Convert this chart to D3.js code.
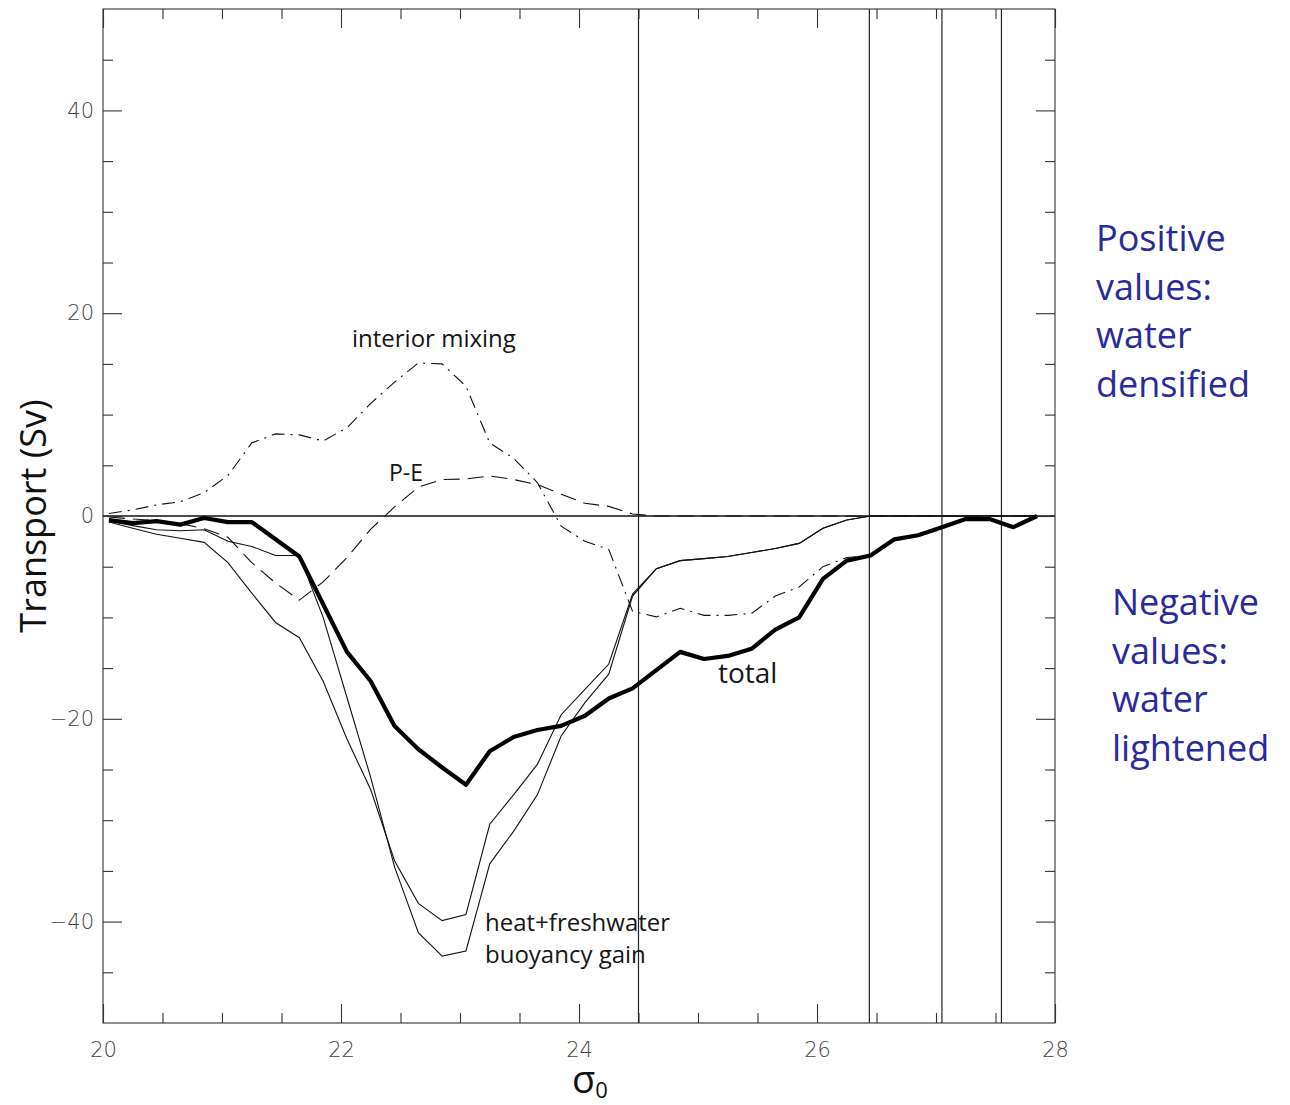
<!DOCTYPE html>
<html>
<head>
<meta charset="utf-8">
<script src="https://cdn.jsdelivr.net/npm/d3@7"></script>
<style>
    body { margin: 0; background: #fff; }
    svg { display: block; }
</style>
</head>
<body>
<svg width="1290" height="1105"></svg>
<script>
// data (sigma_0 bins, transport in Sv)
const sigma = [20.05, 20.25, 20.45, 20.65, 20.85, 21.05, 21.25, 21.45, 21.65, 21.85,
    22.05, 22.25, 22.45, 22.65, 22.85, 23.05, 23.25, 23.45, 23.65, 23.85,
    24.05, 24.25, 24.45, 24.65, 24.85, 25.05, 25.25, 25.45, 25.65, 25.85,
    26.05, 26.25, 26.45, 26.65, 26.85, 27.05, 27.25, 27.45, 27.65, 27.85];

const total = [-0.4, -0.7, -0.5, -0.85, -0.2, -0.6, -0.6, -2.3, -4.0, -8.7,
    -13.4, -16.3, -20.7, -23.0, -24.8, -26.5, -23.2, -21.8, -21.1, -20.7,
    -19.7, -18.0, -17.0, -15.2, -13.4, -14.1, -13.8, -13.1, -11.2, -10.0,
    -6.2, -4.4, -3.9, -2.3, -1.9, -1.1, -0.3, -0.3, -1.1, 0.0];

const mixing = [0.25, 0.6, 1.1, 1.4, 2.3, 4.0, 7.2, 8.1, 8.0, 7.4,
    8.7, 11.1, 13.2, 15.1, 15.0, 12.8, 7.2, 5.7, 3.3, -1.0,
    -2.5, -3.3, -9.4, -9.95, -9.1, -9.8, -9.8, -9.6, -7.9, -7.0,
    -5.0, -4.1, -3.9, -2.3, -1.9, -1.1, -0.3, -0.3, -1.1, 0.0];

const heatFresh = [-0.6, -1.2, -1.8, -2.2, -2.6, -4.6, -7.6, -10.5, -12.0, -16.3,
    -22.0, -27.0, -34.0, -38.2, -39.9, -39.3, -30.4, -27.5, -24.5, -19.6,
    -17.1, -14.6, -7.7, -5.2, -4.4, -4.2, -4.0, -3.6, -3.2, -2.7,
    -1.2, -0.4, 0, 0, 0, 0, 0, 0, 0, 0];

const heat = [-0.5, -0.95, -1.35, -1.45, -1.35, -2.5, -3.0, -3.9, -3.9, -10.0,
    -17.9, -25.8, -34.6, -41.1, -43.4, -42.9, -34.3, -31.1, -27.5, -21.7,
    -18.4, -15.6, -7.9, -5.2, -4.4, -4.2, -4.0, -3.6, -3.2, -2.7,
    -1.2, -0.4, 0, 0, 0, 0, 0, 0, 0, 0];

const pMinusE = [-0.1, -0.3, -0.45, -0.75, -1.25, -2.1, -4.6, -6.6, -8.3, -6.5,
    -4.1, -1.3, 0.9, 2.85, 3.6, 3.65, 3.95, 3.6, 3.1, 2.15,
    1.25, 0.95, 0.2, 0, 0, 0, 0, 0, 0, 0,
    0, 0, 0, 0, 0, 0, 0, 0, 0, 0];

const verticalLines = [24.5, 26.44, 27.05, 27.55];

const xMajor = [20, 22, 24, 26, 28];
const xMinor = [20.5, 21, 21.5, 22.5, 23, 23.5, 24.5, 25, 25.5, 26.5, 27, 27.5];
const yMajor = [-40, -20, 0, 20, 40];
const yMinor = [-45, -35, -30, -25, -15, -10, -5, 5, 10, 15, 25, 30, 35, 45];

const positiveNote = ["Positive", "values:", "water", "densified"];
const negativeNote = ["Negative", "values:", "water", "lightened"];

var svg = d3.select("svg");
// plot box (px)
var boxL = 103, boxR = 1055, boxT = 9, boxB = 1023;

var x = d3.scaleLinear().domain([20, 28]).range([boxL, boxR]);
var y = d3.scaleLinear().domain([-50, 50]).range([boxB, boxT]);

const tickFont = "DejaVu Sans";
const textFont = "'Open Sans', 'Noto Sans', sans-serif";

// zero line and the vertical markers
svg.append("line")
    .attr("x1", x(20)).attr("x2", x(28))
    .attr("y1", y(0)).attr("y2", y(0))
    .attr("stroke", "#111").attr("stroke-width", 1.3);

svg.selectAll(".vline")
    .data(verticalLines)
    .enter()
    .append("line")
    .attr("class", "vline")
    .attr("x1", d => x(d)).attr("x2", d => x(d))
    .attr("y1", y(50)).attr("y2", y(-50))
    .attr("stroke", "#222").attr("stroke-width", 1.2);

// series
var line = d3.line()
    .x(d => x(d[0]))
    .y(d => y(d[1]));

function series(values) {
    return sigma.map((s, i) => [s, values[i]]);
}

svg.append("path")
    .attr("d", line(series(pMinusE)))
    .attr("fill", "none").attr("stroke", "#111").attr("stroke-width", 1.1)
    .attr("stroke-dasharray", "16,8");

svg.append("path")
    .attr("d", line(series(mixing)))
    .attr("fill", "none").attr("stroke", "#111").attr("stroke-width", 1.1)
    .attr("stroke-dasharray", "13,6,2,6");

svg.append("path")
    .attr("d", line(series(heat)))
    .attr("fill", "none").attr("stroke", "#111").attr("stroke-width", 1.1);

svg.append("path")
    .attr("d", line(series(heatFresh)))
    .attr("fill", "none").attr("stroke", "#111").attr("stroke-width", 1.1);

svg.append("path")
    .attr("d", line(series(total)))
    .attr("fill", "none").attr("stroke", "#000").attr("stroke-width", 4.2)
    .attr("stroke-linejoin", "round");

// frame + inward ticks on all four sides
svg.append("rect")
    .attr("x", boxL).attr("y", boxT)
    .attr("width", boxR - boxL).attr("height", boxB - boxT)
    .attr("fill", "none").attr("stroke", "#333").attr("stroke-width", 1.1);

function styleAxis(g) {
    g.select(".domain").remove();
    g.selectAll(".tick line").attr("stroke", "#333").attr("stroke-width", 1.1);
    g.selectAll("text")
        .style("font-family", tickFont)
        .style("font-weight", 200)
        .style("font-size", "21px")
        .attr("fill", "#444");
}

svg.append("g")
    .attr("transform", "translate(0," + boxB + ")")
    .call(d3.axisBottom(x).tickValues(xMajor).tickSizeInner(-19).tickSizeOuter(0).tickPadding(19).tickFormat(d3.format("d")))
    .call(styleAxis);
svg.append("g")
    .attr("transform", "translate(0," + boxB + ")")
    .call(d3.axisBottom(x).tickValues(xMinor).tickSizeInner(-10).tickSizeOuter(0).tickFormat(""))
    .call(styleAxis);
svg.append("g")
    .attr("transform", "translate(0," + boxT + ")")
    .call(d3.axisTop(x).tickValues(xMajor).tickSizeInner(-19).tickSizeOuter(0).tickFormat(""))
    .call(styleAxis);
svg.append("g")
    .attr("transform", "translate(0," + boxT + ")")
    .call(d3.axisTop(x).tickValues(xMinor).tickSizeInner(-10).tickSizeOuter(0).tickFormat(""))
    .call(styleAxis);

svg.append("g")
    .attr("transform", "translate(" + boxL + ",0)")
    .call(d3.axisLeft(y).tickValues(yMajor).tickSizeInner(-19).tickSizeOuter(0).tickPadding(9)
        .tickFormat(d => (d < 0 ? "\u2212" : "") + Math.abs(d)))
    .call(styleAxis);
svg.append("g")
    .attr("transform", "translate(" + boxL + ",0)")
    .call(d3.axisLeft(y).tickValues(yMinor).tickSizeInner(-10).tickSizeOuter(0).tickFormat(""))
    .call(styleAxis);
svg.append("g")
    .attr("transform", "translate(" + boxR + ",0)")
    .call(d3.axisRight(y).tickValues(yMajor).tickSizeInner(-19).tickSizeOuter(0).tickFormat(""))
    .call(styleAxis);
svg.append("g")
    .attr("transform", "translate(" + boxR + ",0)")
    .call(d3.axisRight(y).tickValues(yMinor).tickSizeInner(-10).tickSizeOuter(0).tickFormat(""))
    .call(styleAxis);

// axis titles
svg.append("text")
    .attr("text-anchor", "middle")
    .attr("transform", "translate(46," + y(0) + ")rotate(-90)")
    .style("font-family", textFont)
    .style("font-size", "36px")
    .attr("fill", "#111")
    .text("Transport (Sv)");

var sig = svg.append("text")
    .attr("x", 590).attr("y", 1093)
    .attr("text-anchor", "middle")
    .style("font-family", textFont)
    .attr("fill", "#111");
sig.append("tspan").style("font-size", "38px").text("\u03C3");
sig.append("tspan").style("font-size", "22px").attr("dy", 5).text("0");

// curve labels
function label(txt, px, py, size) {
    svg.append("text")
        .attr("x", px).attr("y", py)
        .style("font-family", textFont)
        .style("font-size", size + "px")
        .attr("fill", "#151515")
        .text(txt);
}
label("interior mixing", 352, 347, 24);
label("P-E", 389, 481, 23);
label("total", 718, 683, 28);
label("heat+freshwater", 485, 931, 24);
label("buoyancy gain", 485, 963, 24);

// notes on the right
function note(lines, px, py) {
    svg.append("g")
        .selectAll("text")
        .data(lines)
        .enter()
        .append("text")
        .attr("x", px)
        .attr("y", (d, i) => py + i * 48.5)
        .style("font-family", textFont)
        .style("font-size", "36px")
        .attr("fill", "#2a2a9c")
        .text(d => d);
}
note(positiveNote, 1096, 251);
note(negativeNote, 1112, 615);
</script>
</body>
</html>
